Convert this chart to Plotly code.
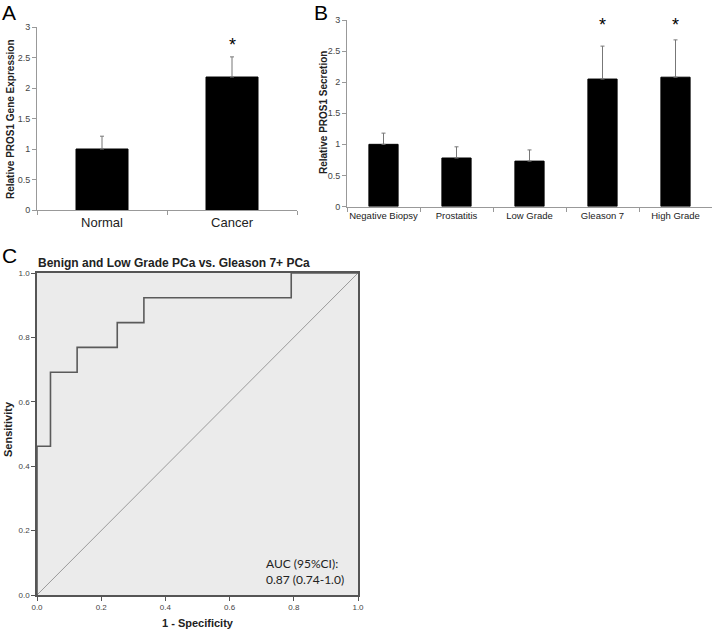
import plotly.graph_objects as go

W, H = 713, 631

# Panel A data
a_categories = ["Normal", "Cancer"]
a_values = [1.0, 2.18]
a_errors = [0.21, 0.33]
a_stars = ["", "*"]

# Panel B data
b_categories = ["Negative Biopsy", "Prostatitis", "Low Grade", "Gleason 7", "High Grade"]
b_values = [1.00, 0.78, 0.73, 2.05, 2.08]
b_errors = [0.18, 0.18, 0.18, 0.53, 0.60]
b_stars = ["", "", "", "*", "*"]

bar_ticks = [0, 0.5, 1, 1.5, 2, 2.5, 3]
bar_ticklabels = ["0", "0.5", "1", "1.5", "2", "2.5", "3"]

# Panel C ROC data (step points)
roc_fpr = [0.0, 0.0, 0.042, 0.125, 0.25, 0.333, 0.792, 1.0]
roc_tpr = [0.0, 0.462, 0.692, 0.769, 0.846, 0.923, 1.0, 1.0]
diag_x = [0.0, 1.0]
diag_y = [0.0, 1.0]
roc_ticks = [0.0, 0.2, 0.4, 0.6, 0.8, 1.0]


def px_x(p):
    return p / W


def px_y(p):
    return 1 - p / H


fig = go.Figure()

fig.add_trace(go.Bar(
    x=a_categories, y=a_values, width=0.4,
    marker=dict(color="black", line=dict(color="black", width=1)),
    error_y=dict(type="data", symmetric=False, array=a_errors,
                 arrayminus=[0] * len(a_errors), color="#777", thickness=1, width=2),
    xaxis="x", yaxis="y", showlegend=False))

fig.add_trace(go.Bar(
    x=b_categories, y=b_values, width=0.4,
    marker=dict(color="black", line=dict(color="black", width=1)),
    error_y=dict(type="data", symmetric=False, array=b_errors,
                 arrayminus=[0] * len(b_errors), color="#777", thickness=1, width=2),
    xaxis="x2", yaxis="y2", showlegend=False))

fig.add_trace(go.Scatter(
    x=diag_x, y=diag_y, mode="lines", line=dict(color="#9a9a9a", width=1),
    xaxis="x3", yaxis="y3", showlegend=False))
fig.add_trace(go.Scatter(
    x=roc_fpr, y=roc_tpr, mode="lines", line=dict(color="#5a5a5a", width=1.6, shape="hv"),
    xaxis="x3", yaxis="y3", showlegend=False))

tick_font = dict(family="Arial, Liberation Sans", size=9, color="#444")
bar_y_common = dict(range=[0, 3], tickvals=bar_ticks, ticktext=bar_ticklabels,
                    showline=True, linecolor="#999", linewidth=1, ticks="outside",
                    ticklen=4, tickcolor="#999", showgrid=False, zeroline=False,
                    tickfont=tick_font, automargin=False)

annotations = []
for cat, val, err, s in zip(a_categories, a_values, a_errors, a_stars):
    if s:
        annotations.append(dict(x=cat, y=val + err, xref="x", yref="y", text=s,
                                showarrow=False, yshift=12,
                                font=dict(family="Arial", size=18, color="black")))
for cat, val, err, s in zip(b_categories, b_values, b_errors, b_stars):
    if s:
        annotations.append(dict(x=cat, y=2.92, xref="x2", yref="y2", text=s,
                                showarrow=False,
                                font=dict(family="Arial", size=18, color="black")))

# panel labels
for lab, x, y in [("A", 0, 12), ("B", 312, 12), ("C", 0, 255)]:
    annotations.append(dict(x=px_x(x), y=px_y(y), xref="paper", yref="paper", text=lab,
                            showarrow=False, xanchor="left", yanchor="middle",
                            font=dict(family="Arial, Liberation Sans", size=21, color="black")))

for txt, x, y, size in [("Relative PROS1 Gene Expression", 11, 119, 10),
                        ("Relative PROS1 Secretion", 323, 113, 10),
                        ("Sensitivity", 8, 429, 11)]:
    annotations.append(dict(x=px_x(x), y=px_y(y), xref="paper", yref="paper",
                            text="<b>%s</b>" % txt, textangle=-90, showarrow=False,
                            xanchor="center", yanchor="middle",
                            font=dict(family="Arial, Liberation Sans", size=size, color="#222")))
annotations.append(dict(x=px_x(198), y=px_y(623), xref="paper", yref="paper",
                        text="<b>1 - Specificity</b>", showarrow=False,
                        xanchor="center", yanchor="middle",
                        font=dict(family="Arial, Liberation Sans", size=11, color="#222")))

annotations.append(dict(x=px_x(36), y=px_y(263), xref="paper", yref="paper",
                        text="<b>Benign and Low Grade PCa vs. Gleason 7+ PCa</b>",
                        showarrow=False, xanchor="left", yanchor="middle",
                        font=dict(family="Arial, Liberation Sans", size=12, color="#222")))
annotations.append(dict(x=px_x(264), y=px_y(571), xref="paper", yref="paper",
                        text="AUC (95%CI):<br>0.87 (0.74-1.0)", align="left",
                        showarrow=False, xanchor="left", yanchor="middle",
                        font=dict(family="Lato", size=12, color="#222")))

fig.update_layout(
    width=W, height=H, margin=dict(l=0, r=0, t=0, b=0),
    paper_bgcolor="white", plot_bgcolor="rgba(0,0,0,0)",
    bargap=0.6,
    xaxis=dict(domain=[px_x(37), px_x(297)], anchor="y", showline=True, linecolor="#999",
               ticks="outside", tickson="boundaries", ticklen=4, tickcolor="#999",
               tickangle=0, automargin=False,
               tickfont=dict(family="Arial, Liberation Sans", size=13, color="#222")),
    yaxis=dict(domain=[px_y(210), px_y(27)], anchor="x", **bar_y_common),
    xaxis2=dict(domain=[px_x(347), px_x(712)], anchor="y2", showline=True, linecolor="#999",
                ticks="outside", tickson="boundaries", ticklen=4, tickcolor="#999",
                tickangle=0, automargin=False,
                tickfont=dict(family="Arial, Liberation Sans", size=9.5, color="#222")),
    yaxis2=dict(domain=[px_y(206.5), px_y(20)], anchor="x2", **bar_y_common),
    xaxis3=dict(domain=[px_x(37), px_x(358)], anchor="y3", range=[0, 1],
                tickvals=roc_ticks, tickformat=".1f", showline=True, mirror=True,
                linecolor="#555", linewidth=1.5, ticks="outside", ticklen=4,
                tickcolor="#555", showgrid=False, zeroline=False, automargin=False,
                tickfont=dict(family="Arial, Liberation Sans", size=8, color="#444")),
    yaxis3=dict(domain=[px_y(595), px_y(273)], anchor="x3", range=[0, 1],
                tickvals=roc_ticks, tickformat=".1f", showline=True, mirror=True,
                linecolor="#555", linewidth=1.5, ticks="outside", ticklen=4,
                tickcolor="#555", showgrid=False, zeroline=False, automargin=False,
                tickfont=dict(family="Arial, Liberation Sans", size=8, color="#444")),
    shapes=[dict(type="rect", xref="x3", yref="y3", x0=0, x1=1, y0=0, y1=1,
                 fillcolor="#ebebeb", line=dict(width=0), layer="below")],
    annotations=annotations,
)

fig.write_html("out.html", config={"displayModeBar": False},
               post_script="document.body.style.margin='0';")
